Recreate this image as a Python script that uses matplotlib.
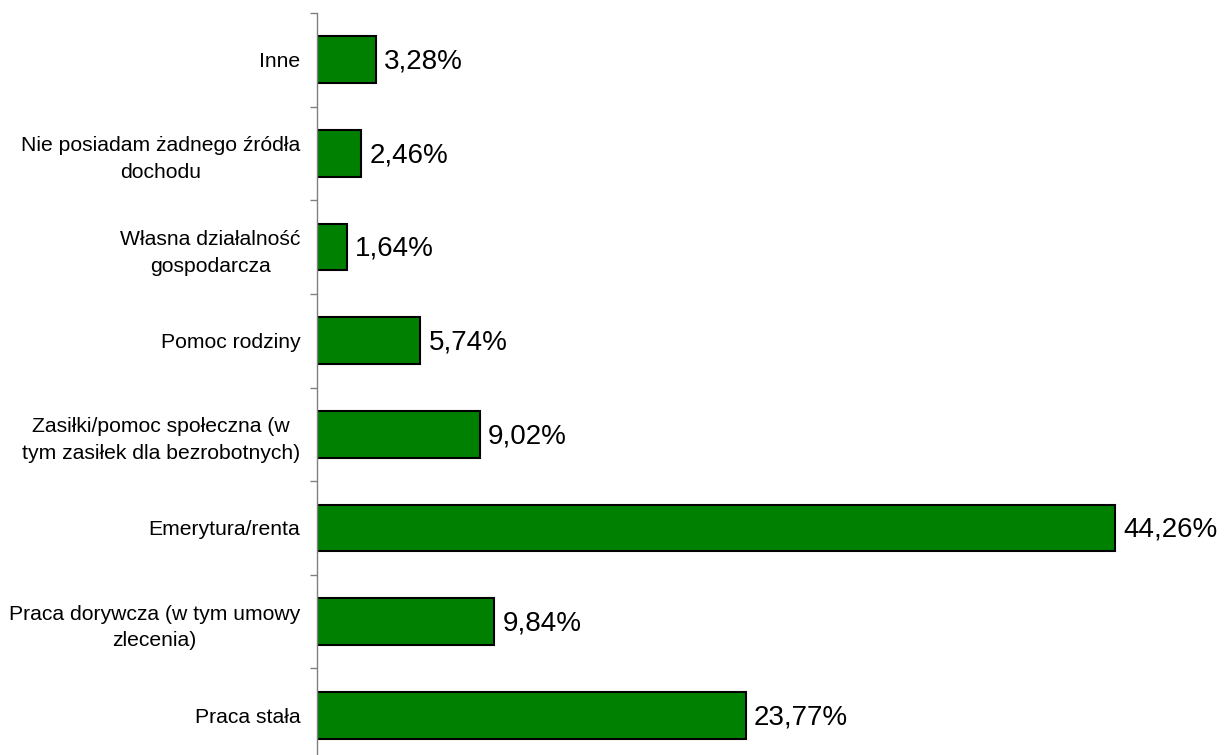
import numpy as np
import matplotlib.pyplot as plt
from matplotlib.ticker import FixedLocator

plt.rcParams['font.family'] = ['Liberation Sans', 'DejaVu Sans']

# źródła dochodu (od dołu wykresu)
kategorie = [
    "Praca stała",
    "Praca dorywcza (w tym umowy\nzlecenia)",
    "Emerytura/renta",
    "Zasiłki/pomoc społeczna (w\ntym zasiłek dla bezrobotnych)",
    "Pomoc rodziny",
    "Własna działalność\ngospodarcza",
    "Nie posiadam żadnego źródła\ndochodu",
    "Inne",
]
procenty = [23.77, 9.84, 44.26, 9.02, 5.74, 1.64, 2.46, 3.28]

fig = plt.figure(figsize=(12.24, 7.55), dpi=100)
ax = fig.add_axes([317 / 1224, -7 / 755, 0.7365, 749 / 755])

y = np.arange(len(kategorie))
bars = ax.barh(y, procenty, height=0.5, color='#008000', edgecolor='black', linewidth=1.5)

# etykiety z wartościami (przecinek dziesiętny)
for b, v in zip(bars, procenty):
    ax.text(b.get_width() + 0.45, b.get_y() + b.get_height() / 2 - 0.02,
            f"{v:.2f}%".replace('.', ','), va='center', ha='left', fontsize=20)

ax.set_xlim(0, 50)
ax.set_ylim(-0.5, len(kategorie) - 0.5)

ax.set_yticks(y)
ax.set_yticklabels(kategorie, fontsize=15.2)
for lab in ax.get_yticklabels():
    lab.set_multialignment('center')
    lab.set_linespacing(1.5)
ax.tick_params(axis='y', which='major', length=0, pad=12)

# kreski między kategoriami
ax.yaxis.set_minor_locator(FixedLocator(np.arange(-0.5, len(kategorie), 1.0)))
ax.tick_params(axis='y', which='minor', length=5, width=1, color='#808080')

ax.set_xticks([])
for s in ['top', 'right', 'bottom']:
    ax.spines[s].set_visible(False)
ax.spines['left'].set_color('#808080')
ax.spines['left'].set_linewidth(1)

fig.savefig('out.png', dpi=100)
